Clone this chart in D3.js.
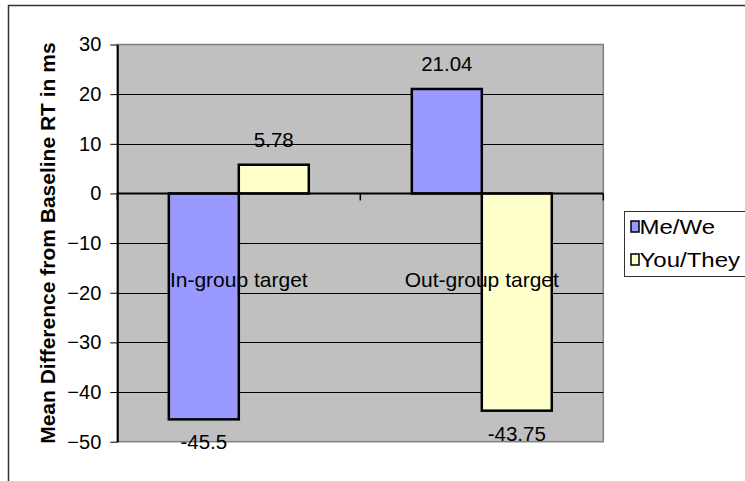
<!DOCTYPE html>
<html>
<head>
<meta charset="utf-8">
<script src="https://cdn.jsdelivr.net/npm/d3@7"></script>
<style>
  html, body { margin: 0; padding: 0; background: #fff; }
  svg { display: block; font-family: Arial, "Liberation Sans", sans-serif; }
</style>
</head>
<body>
<svg id="chart" width="745" height="481"></svg>
<script>
// Reaction-time differences by target group and pronoun type
const categories = ["In-group target", "Out-group target"];
const seriesNames = ["Me/We", "You/They"];
const meWe = [-45.5, 21.04];
const youThey = [5.78, -43.75];
const yTicks = [30, 20, 10, 0, -10, -20, -30, -40, -50];
const seriesColors = ["#9999FF", "#FFFFCC"];

const values = [meWe, youThey];
const rows = categories.map((c, i) => ({
  category: c,
  bars: seriesNames.map((s, j) => ({ series: s, value: values[j][i], color: seriesColors[j] }))
}));

const svg = d3.select("#chart");
const plot = { left: 117.3, right: 603.3, top: 44.5, bottom: 441.7 };

const y = d3.scaleLinear().domain([-50, 30]).range([plot.bottom, plot.top]);
const x0 = d3.scaleBand().domain(categories)
  .range([plot.left, plot.right]).paddingInner(0.424).paddingOuter(0.212);
const x1 = d3.scaleBand().domain(seriesNames).range([0, x0.bandwidth()]);

// outer chart frame
svg.append("rect")
  .attr("x", 8.5).attr("y", 5.5).attr("width", 760).attr("height", 500)
  .attr("fill", "#fff").attr("stroke", "#333").attr("stroke-width", 1.5);

// plot area background
svg.append("rect")
  .attr("x", plot.left).attr("y", plot.top)
  .attr("width", plot.right - plot.left).attr("height", plot.bottom - plot.top)
  .attr("fill", "#C0C0C0").attr("stroke", "#808080").attr("stroke-width", 1.5);

// horizontal gridlines
svg.append("g")
  .selectAll("line")
  .data(yTicks.filter(t => t !== 0 && t !== 30 && t !== -50))
  .join("line")
  .attr("x1", plot.left).attr("x2", plot.right)
  .attr("y1", d => Math.round(y(d)) + 0.5).attr("y2", d => Math.round(y(d)) + 0.5)
  .attr("stroke", "#000").attr("stroke-width", 1);

// y axis
const yAxis = d3.axisLeft(y).tickValues(yTicks).tickSize(7).tickPadding(9).tickSizeOuter(0);
const gy = svg.append("g").attr("transform", `translate(${plot.left},0)`).call(yAxis);
gy.select(".domain").attr("stroke", "#000").attr("stroke-width", 2);
gy.selectAll(".tick line").attr("stroke", "#000").attr("stroke-width", 1);
gy.selectAll(".tick text")
  .attr("font-size", 20).attr("fill", "#000")
  .attr("font-family", "Arial, 'Liberation Sans', sans-serif");

// bars
const groups = svg.append("g").selectAll("g")
  .data(rows).join("g")
  .attr("transform", d => `translate(${x0(d.category)},0)`);

groups.selectAll("rect")
  .data(d => d.bars).join("rect")
  .attr("x", d => x1(d.series))
  .attr("y", d => y(Math.max(0, d.value)))
  .attr("width", x1.bandwidth())
  .attr("height", d => Math.abs(y(d.value) - y(0)))
  .attr("fill", d => d.color)
  .attr("stroke", "#000").attr("stroke-width", 2.5);

// value labels
groups.selectAll("text.value")
  .data(d => d.bars).join("text")
  .attr("class", "value")
  .attr("x", d => x1(d.series) + x1.bandwidth() / 2)
  .attr("y", d => d.value >= 0 ? y(d.value) - 18 : y(d.value) + 30)
  .attr("text-anchor", "middle")
  .attr("font-size", 20.5).attr("fill", "#000")
  .text(d => d.value);

// zero axis line with category ticks
svg.append("line")
  .attr("x1", plot.left).attr("x2", plot.right)
  .attr("y1", y(0)).attr("y2", y(0))
  .attr("stroke", "#000").attr("stroke-width", 2);
const boundaries = [plot.left, plot.left + x0.step(), plot.right];
svg.append("g").selectAll("line")
  .data(boundaries).join("line")
  .attr("x1", d => d).attr("x2", d => d)
  .attr("y1", y(0)).attr("y2", y(0) + 7)
  .attr("stroke", "#000").attr("stroke-width", 1.5);

// category labels
svg.append("g").selectAll("text")
  .data(categories).join("text")
  .attr("x", d => x0(d) + x0.bandwidth() / 2)
  .attr("y", 287)
  .attr("text-anchor", "middle")
  .attr("font-size", 21).attr("fill", "#000")
  .text(d => d);

// y axis title
svg.append("text")
  .attr("transform", `translate(55,${(plot.top + plot.bottom) / 2}) rotate(-90)`)
  .attr("text-anchor", "middle")
  .attr("font-size", 21).attr("font-weight", "bold").attr("fill", "#000")
  .text("Mean Difference from Baseline RT in ms");

// legend
const legend = svg.append("g").attr("transform", "translate(624.5,211.5)");
legend.append("rect")
  .attr("width", 135).attr("height", 65)
  .attr("fill", "#fff").attr("stroke", "#333").attr("stroke-width", 1);
const items = legend.selectAll("g.item")
  .data(seriesNames).join("g")
  .attr("class", "item")
  .attr("transform", (d, i) => `translate(6.5,${15 + i * 33})`);
items.append("rect")
  .attr("x", 0).attr("y", -5.5).attr("width", 8).attr("height", 11)
  .attr("fill", (d, i) => seriesColors[i])
  .attr("stroke", "#000").attr("stroke-width", 1.5);
items.append("text")
  .attr("transform", "translate(8.5,7) scale(1,0.82)")
  .attr("font-size", 24).attr("fill", "#000")
  .text(d => d);
</script>
</body>
</html>
